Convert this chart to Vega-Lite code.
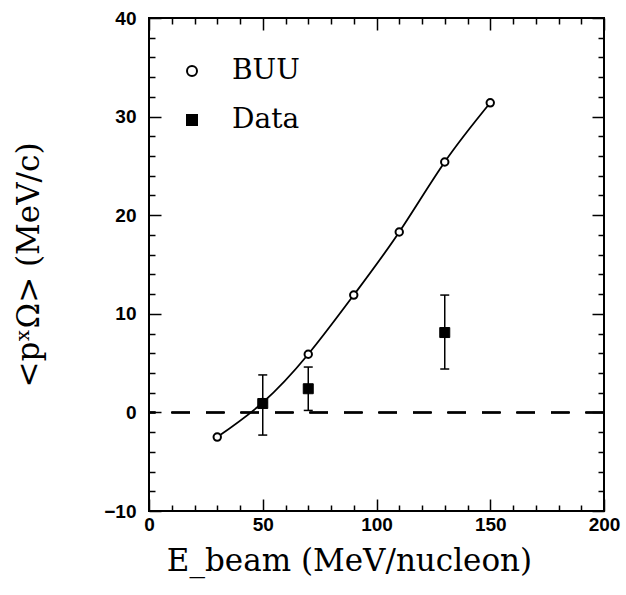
{
  "$schema": "https://vega.github.io/schema/vega-lite/v6.json",
  "description": "Mean in-plane momentum of Omega vs beam energy, BUU vs data",
  "autosize": "none",
  "width": 455,
  "height": 493,
  "padding": {"left": 149, "top": 18, "right": 22, "bottom": 84},
  "background": "white",
  "datasets": {
    "buu": [
      {"E": 30, "p": -2.5, "s": "BUU"},
      {"E": 50, "p": 1.0, "s": "BUU"},
      {"E": 70, "p": 5.9, "s": "BUU"},
      {"E": 90, "p": 11.9, "s": "BUU"},
      {"E": 110, "p": 18.3, "s": "BUU"},
      {"E": 130, "p": 25.4, "s": "BUU"},
      {"E": 150, "p": 31.4, "s": "BUU"}
    ],
    "data": [
      {"E": 50, "p": 0.9, "lo": -2.3, "hi": 3.8, "s": "Data"},
      {"E": 70, "p": 2.4, "lo": 0.2, "hi": 4.6, "s": "Data"},
      {"E": 130, "p": 8.1, "lo": 4.4, "hi": 11.9, "s": "Data"}
    ]
  },
  "layer": [
    {
      "data": {"name": "buu"},
      "mark": {"type": "rule", "color": "black", "strokeWidth": 1.5, "strokeDash": [18.5, 16]},
      "encoding": {
        "y": {"datum": 0, "type": "quantitative", "axis": null}
      }
    },
    {
      "data": {"name": "buu"},
      "mark": {"type": "line", "color": "black", "strokeWidth": 1.8, "interpolate": "natural"},
      "encoding": {
        "x": {
          "field": "E", "type": "quantitative",
          "scale": {"domain": [0, 200], "nice": false},
          "axis": {
            "orient": "bottom",
            "values": [0, 10, 20, 30, 40, 50, 60, 70, 80, 90, 100, 110, 120, 130, 140, 150, 160, 170, 180, 190, 200],
            "labelExpr": "datum.value % 50 == 0 ? datum.label : ''",
            "tickSize": {"condition": {"test": "datum.value % 50 == 0", "value": -12}, "value": -6},
            "labelPadding": 16,
            "title": "E_beam (MeV/nucleon)",
            "titleX": 200,
            "titlePadding": 6
          }
        },
        "y": {
          "field": "p", "type": "quantitative",
          "scale": {"domain": [-10, 40], "nice": false},
          "axis": {
            "orient": "left",
            "values": [-10, -8, -6, -4, -2, 0, 2, 4, 6, 8, 10, 12, 14, 16, 18, 20, 22, 24, 26, 28, 30, 32, 34, 36, 38, 40],
            "labelExpr": "datum.value % 10 == 0 ? datum.label : ''",
            "tickSize": {"condition": {"test": "datum.value % 10 == 0", "value": -12}, "value": -6},
            "labelPadding": 25,
            "title": "<pˣΩ> (MeV/c)",
            "titlePadding": 58
          }
        }
      }
    },
    {
      "data": {"name": "buu"},
      "mark": {"type": "point", "filled": true, "strokeWidth": 2, "size": 55, "opacity": 1},
      "encoding": {
        "x": {"field": "E", "type": "quantitative", "axis": null},
        "y": {"field": "p", "type": "quantitative", "axis": null},
        "shape": {
          "field": "s", "type": "nominal",
          "scale": {"domain": ["BUU", "Data"], "range": ["circle", "square"]},
          "legend": {"orient": "none", "legendX": 29, "legendY": 39, "title": null, "labelFont": "DejaVu Serif", "labelFontSize": 28, "labelOffset": 26, "symbolSize": 100, "symbolStrokeWidth": 2, "rowPadding": 21, "padding": 0}
        },
        "fill": {
          "field": "s", "type": "nominal",
          "scale": {"domain": ["BUU", "Data"], "range": ["white", "black"]}
        },
        "stroke": {
          "field": "s", "type": "nominal",
          "scale": {"domain": ["BUU", "Data"], "range": ["black", "black"]}
        }
      }
    },
    {
      "data": {"name": "data"},
      "mark": {"type": "rule", "color": "black", "strokeWidth": 1.5},
      "encoding": {
        "x": {"field": "E", "type": "quantitative", "axis": null},
        "y": {"field": "lo", "type": "quantitative", "axis": null},
        "y2": {"field": "hi"}
      }
    },
    {
      "data": {"name": "data"},
      "mark": {"type": "tick", "orient": "horizontal", "color": "black", "size": 9, "thickness": 1.5, "opacity": 1},
      "encoding": {
        "x": {"field": "E", "type": "quantitative", "axis": null},
        "y": {"field": "lo", "type": "quantitative", "axis": null}
      }
    },
    {
      "data": {"name": "data"},
      "mark": {"type": "tick", "orient": "horizontal", "color": "black", "size": 9, "thickness": 1.5, "opacity": 1},
      "encoding": {
        "x": {"field": "E", "type": "quantitative", "axis": null},
        "y": {"field": "hi", "type": "quantitative", "axis": null}
      }
    },
    {
      "data": {"name": "data"},
      "mark": {"type": "point", "filled": true, "strokeWidth": 1, "size": 100, "opacity": 1},
      "encoding": {
        "x": {
          "field": "E", "type": "quantitative",
          "axis": {
            "orient": "top",
            "values": [0, 10, 20, 30, 40, 50, 60, 70, 80, 90, 100, 110, 120, 130, 140, 150, 160, 170, 180, 190, 200],
            "labels": false,
            "tickSize": {"condition": {"test": "datum.value % 50 == 0", "value": -12}, "value": -6},
            "title": null
          }
        },
        "y": {
          "field": "p", "type": "quantitative",
          "axis": {
            "orient": "right",
            "values": [-10, -8, -6, -4, -2, 0, 2, 4, 6, 8, 10, 12, 14, 16, 18, 20, 22, 24, 26, 28, 30, 32, 34, 36, 38, 40],
            "labels": false,
            "tickSize": {"condition": {"test": "datum.value % 10 == 0", "value": -12}, "value": -6},
            "title": null
          }
        },
        "shape": {"field": "s", "type": "nominal"},
        "fill": {"field": "s", "type": "nominal"},
        "stroke": {"field": "s", "type": "nominal"}
      }
    }
  ],
  "resolve": {"axis": {"x": "independent", "y": "independent"}},
  "config": {
    "view": {"stroke": "black", "strokeWidth": 2},
    "axis": {
      "domain": false,
      "grid": false,
      "tickColor": "black",
      "tickWidth": 1.5,
      "labelColor": "black",
      "labelFont": "Liberation Sans",
      "labelFontWeight": "bold",
      "labelFontSize": 19,
      "labelFlush": false,
      "labelOverlap": false,
      "titleColor": "black",
      "titleFont": "DejaVu Serif",
      "titleFontWeight": "normal",
      "titleFontSize": 31
    },
    "legend": {"labelColor": "black"}
  }
}
